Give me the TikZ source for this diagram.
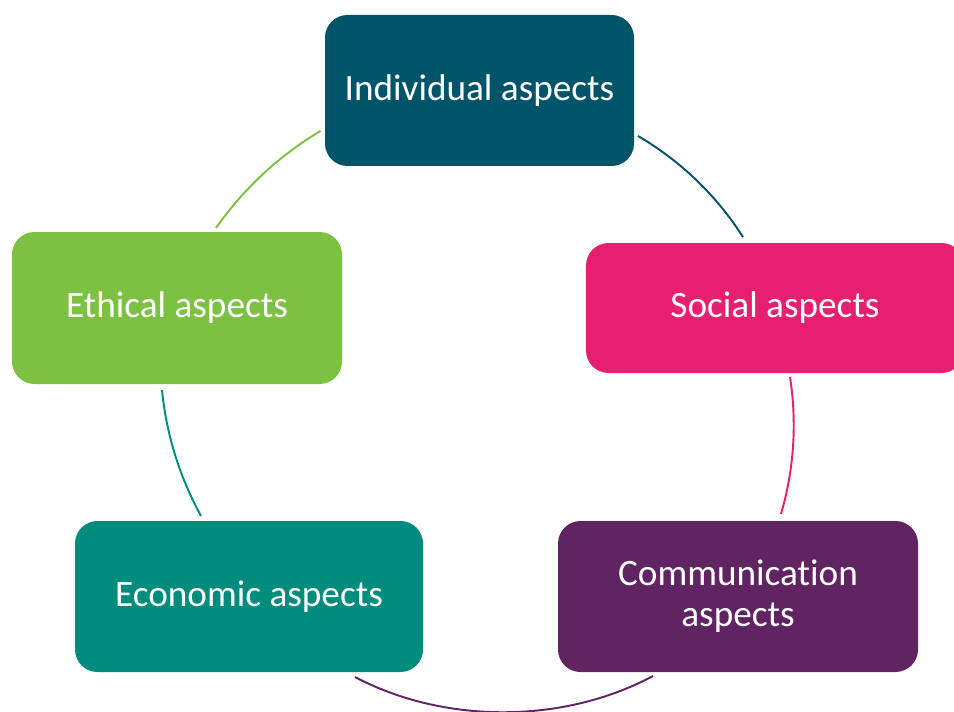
\documentclass[tikz,border=0pt]{standalone}
\usepackage{fontspec}
\setmainfont{Carlito}[Ligatures=NoCommon]
\usepackage{xcolor}
\usepackage{tikz}

\definecolor{indblue}{HTML}{00546A}
\definecolor{socpink}{HTML}{E71F70}
\definecolor{compurple}{HTML}{5F2461}
\definecolor{ecoteal}{HTML}{008C7C}
\definecolor{ethgreen}{HTML}{7CC142}

\tikzset{
  aspect/.style={rounded corners=0.45cm, text=white, align=center, inner sep=0pt,
    font=\fontsize{21.2}{23.3}\selectfont},
  link/.style={line width=1.1pt, looseness=0.87}
}

\begin{document}
\begin{tikzpicture}
\useasboundingbox (0,0) rectangle (19.08,14.22);
\node[aspect, fill=indblue, minimum width=6.18cm, minimum height=3.02cm] (ind) at (9.59,12.41) {Individual aspects};
\node[aspect, fill=socpink, minimum width=7.56cm, minimum height=2.6cm] (soc) at (15.50,8.06) {Social aspects};
\node[aspect, fill=compurple, minimum width=7.2cm, minimum height=3.02cm] (com) at (14.76,2.29) {Communication\\aspects};
\node[aspect, fill=ecoteal, minimum width=6.96cm, minimum height=3.02cm] (eco) at (4.98,2.29) {Economic aspects};
\node[aspect, fill=ethgreen, minimum width=6.6cm, minimum height=3.04cm] (eth) at (3.54,8.06) {Ethical aspects};

\coordinate (ind-r) at (12.76,11.50);
\coordinate (soc-t) at (14.86,9.48);
\coordinate (soc-b) at (15.80,6.68);
\coordinate (com-t) at (15.62,3.94);
\coordinate (com-b) at (13.06,0.70);
\coordinate (eco-b) at (7.10,0.68);
\coordinate (eco-t) at (4.02,3.90);
\coordinate (eth-b) at (3.24,6.42);
\coordinate (eth-t) at (4.32,9.66);
\coordinate (ind-l) at (6.41,11.60);

\draw[link, indblue] (ind-r) to[bend left=13.5] (soc-t);
\draw[link, socpink] (soc-b) to[bend left=12.5] (com-t);
\draw[link, compurple] (com-b) to[bend left=28] (eco-b);
\draw[link, ecoteal] (eco-t) to[bend left=11.5] (eth-b);
\draw[link, ethgreen] (eth-t) to[bend left=12] (ind-l);
\end{tikzpicture}
\end{document}
